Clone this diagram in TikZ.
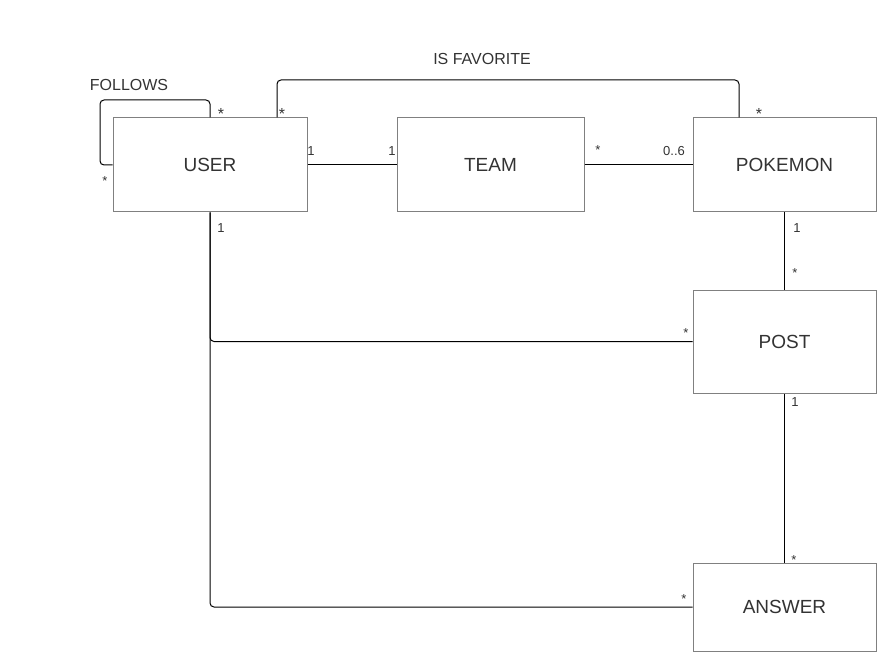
\documentclass[tikz,border=0pt]{standalone}
\usepackage{fontspec}
\setmainfont{Liberation Sans}
\definecolor{txt}{HTML}{333333}
\definecolor{bord}{HTML}{808080}
\begin{document}
\begin{tikzpicture}[x=1pt,y=-1pt,
  entity/.style={draw=bord,line width=1pt,fill=white,minimum width=#1,text=txt,font=\fontsize{19}{19}\selectfont,inner sep=0pt},
  entity/.default={194pt},
  conn/.style={draw=black,line width=1pt,rounded corners=4pt},
  mult/.style={text=txt,font=\fontsize{13}{13}\selectfont,inner sep=0pt},
  bigstar/.style={text=txt,font=\fontsize{16}{16}\selectfont,inner sep=0pt},
  star/.style={text=txt,font=\fontsize{13}{13}\selectfont,inner sep=0pt},
  lbl/.style={text=txt,font=\fontsize{16}{16}\selectfont,inner sep=0pt}]
\useasboundingbox (0,0) rectangle (877,652);
\node[entity=194pt,minimum height=94pt] (user) at (210,165) {USER};
\node[entity=187pt,minimum height=94pt] (team) at (490.5,165) {TEAM};
\node[entity=183pt,minimum height=94pt] (pokemon) at (784.5,165) {POKEMON};
\node[entity=183pt,minimum height=103pt] (post) at (784.5,341.5) {POST};
\node[entity=183pt,minimum height=88pt] (answer) at (784.5,607) {ANSWER};
\coordinate (fl) at (100,100);
\coordinate (fa1) at (277,80);
\coordinate (fa2) at (739,80);
% connectors
\draw[conn] (user.north) |- (fl) |- (user.west);
\draw[conn] (user.north -| fa1) -- (fa1) -- (fa2) -- (pokemon.north -| fa2);
\draw[conn] (user) -- (team);
\draw[conn] (team) -- (pokemon);
\draw[conn] (pokemon) -- (post);
\draw[conn] (post) -- (answer);
\draw[conn] (user.south) |- (post.west);
\draw[conn] (user.south) |- (answer.west);
% labels
\node[lbl] (tfollows) at (129,85) {FOLLOWS};
\node[lbl] (tfav) at (482,59) {IS FAVORITE};
\node[bigstar] (m1) at (221,114) {*};
\node[star] (m2) at (105,181) {*};
\node[bigstar] (m3) at (282,114) {*};
\node[bigstar] (m4) at (759,114) {*};
\node[mult] (m5) at (311,151) {1};
\node[mult] (m6) at (392,151) {1};
\node[star] (m7) at (598,150) {*};
\node[mult] (m8) at (674,151) {0..6};
\node[mult] (m9) at (797,228) {1};
\node[star] (m10) at (795,273) {*};
\node[mult] (m11) at (221,228) {1};
\node[star] (m12) at (686,333) {*};
\node[star] (m13) at (684,599) {*};
\node[mult] (m14) at (795,402) {1};
\node[star] (m15) at (794,560) {*};
\end{tikzpicture}
\end{document}
